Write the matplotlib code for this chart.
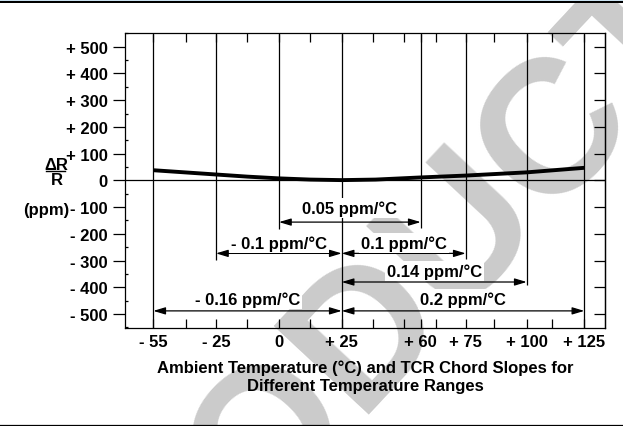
import numpy as np
import matplotlib
matplotlib.use('Agg')
import matplotlib.pyplot as plt
from matplotlib.lines import Line2D
from matplotlib.patches import Rectangle

plt.rcParams['font.family'] = ['Liberation Sans', 'DejaVu Sans']
plt.rcParams['font.weight'] = 'bold'
plt.rcParams['axes.labelweight'] = 'bold'
plt.rcParams['font.size'] = 12

W, H = 623, 427

# x axis is drawn non-uniformly in the original: label positions (pixel-like units)
temp_ticks = [-55, -25, 0, 25, 60, 75, 100, 125]
temp_labels = ['- 55', '- 25', '0', '+ 25', '+ 60', '+ 75', '+ 100', '+ 125']
tick_pos = [153.3, 216, 279, 341.7, 420.7, 465.7, 526.7, 584.3]
minor_pos = [185.7, 247.3, 310, 372.7, 404.3, 436, 494, 552]

ppm_ticks = [500, 400, 300, 200, 100, 0, -100, -200, -300, -400, -500]
ppm_labels = ['+ 500', '+ 400', '+ 300', '+ 200', '+ 100', '0',
              '- 100', '- 200', '- 300', '- 400', '- 500']

# Delta R / R curve (ppm)
curve_temp = [-55, -40, -25, -12.5, 0, 12.5, 25, 40, 60, 75, 100, 125]
curve_ppm = [38, 30, 22, 14, 7.5, 3, 1, 3, 11, 18, 30, 47]

# vertical reference lines and where they stop (ppm)
vline_temp = [-55, -25, 0, 25, 60, 75, 100, 125]
vline_bottom = [None, -298, -183, None, -179, -295, -392, None]

# TCR chord slopes
chord_start = [0, -25, 25, 25, -55, 25]
chord_end = [60, 25, 75, 100, 25, 125]
chord_y = [-156, -273, -273, -380, -488, -488]
chord_text_y = [-121, -252, -251, -356, -461, -461]
chord_labels = ['0.05 ppm/°C', '- 0.1 ppm/°C', '0.1 ppm/°C', '0.14 ppm/°C',
                '- 0.16 ppm/°C', '0.2 ppm/°C']

# piecewise linear scale through the tick anchors
T = np.array(temp_ticks, dtype=float)
P = np.array(tick_pos, dtype=float)
sl0 = (P[1] - P[0]) / (T[1] - T[0])
sl1 = (P[-1] - P[-2]) / (T[-1] - T[-2])
T_ext = np.concatenate([[T[0] - 1000], T, [T[-1] + 1000]])
P_ext = np.concatenate([[P[0] - 1000 * sl0], P, [P[-1] + 1000 * sl1]])


def fwd(t):
    return np.interp(t, T_ext, P_ext)


def inv(p):
    return np.interp(p, P_ext, T_ext)


fig = plt.figure(figsize=(W / 100, H / 100), dpi=100)
ax_left, ax_right, ax_top, ax_bot = 125, 605, 34.3, 329
ax = fig.add_axes([ax_left / W, 1 - ax_bot / H, (ax_right - ax_left) / W,
                   (ax_bot - ax_top) / H])
ax.set_facecolor('none')

# watermark (only its upper part falls inside the page)
fig.text(76 / W, 1 - 716 / H, 'PRODUCT', fontsize=137, color='#cbcbcb',
         fontweight='bold', rotation=47, ha='left', va='baseline',
         rotation_mode='anchor', zorder=-5)

ax.set_xscale('function', functions=(fwd, inv))
ax.set_xlim(inv(ax_left), inv(ax_right))
ylo, yhi = -552, 547.4
ax.set_ylim(ylo, yhi)

ax.plot(curve_temp, curve_ppm, color='black', lw=2.8, solid_capstyle='butt', zorder=4)
ax.axhline(0, color='black', lw=0.9, zorder=3)

bottoms = [ylo if b is None else b for b in vline_bottom]
ax.vlines(vline_temp, bottoms, yhi, color='black', lw=0.9, zorder=2)

for s, e, y, ty, lab in zip(chord_start, chord_end, chord_y, chord_text_y, chord_labels):
    ax.annotate('', xy=(e, y), xytext=(s, y),
                arrowprops=dict(arrowstyle='<|-|>,head_length=0.6,head_width=0.18',
                                mutation_scale=12, color='black', lw=0.9,
                                shrinkA=0, shrinkB=0), zorder=3)
    mid = inv((fwd(s) + fwd(e)) / 2)
    ax.text(mid, ty, lab, ha='center', va='baseline', zorder=5,
            bbox=dict(facecolor='white', edgecolor='none', pad=1.5))

ax.set_xticks(temp_ticks)
ax.set_xticklabels(temp_labels)
ax.set_xticks(inv(np.array(minor_pos)), minor=True)
ax.tick_params(axis='x', which='both', direction='in', top=True, length=6.5,
               width=0.9, pad=4.5)

ax.set_yticks(ppm_ticks)
ax.set_yticklabels(ppm_labels)
ax.set_yticks(np.arange(-550, 551, 100), minor=True)
ax.tick_params(axis='y', which='major', direction='out', length=8.5, width=0.9, pad=4)
ax.tick_params(axis='y', which='minor', direction='in', length=2, width=0.9)

sec = ax.secondary_yaxis('right')
sec.set_yticks(ppm_ticks)
sec.tick_params(direction='in', length=8, width=0.9, labelright=False)
sec.spines['right'].set_linewidth(0.9)

for sp in ax.spines.values():
    sp.set_linewidth(0.9)

ax.set_xlabel('Ambient Temperature (°C) and TCR Chord Slopes for\n'
              'Different Temperature Ranges', labelpad=7.5, linespacing=1.25)

# y label as a stacked fraction
fig.text(56.5 / W, 1 - 165 / H, 'ΔR', ha='center', va='center')
fig.add_artist(Line2D([46 / W, 65 / W], [1 - 172.3 / H, 1 - 172.3 / H],
                      color='black', lw=1))
fig.text(56.5 / W, 1 - 180.5 / H, 'R', ha='center', va='center')
fig.text(45.8 / W, 1 - 211 / H, '(ppm)', ha='center', va='center')

# page rules
fig.add_artist(Rectangle((0, 1 - 2 / H), 1, 2 / H, transform=fig.transFigure,
                         color='#c9e0ef', lw=0))
fig.add_artist(Rectangle((0, 1 - 4 / H), 1, 2 / H, transform=fig.transFigure,
                         color='black', lw=0))
fig.add_artist(Line2D([0, 1], [1 - 425.5 / H, 1 - 425.5 / H], color='black', lw=0.9))

fig.savefig('out.png', dpi=100)
